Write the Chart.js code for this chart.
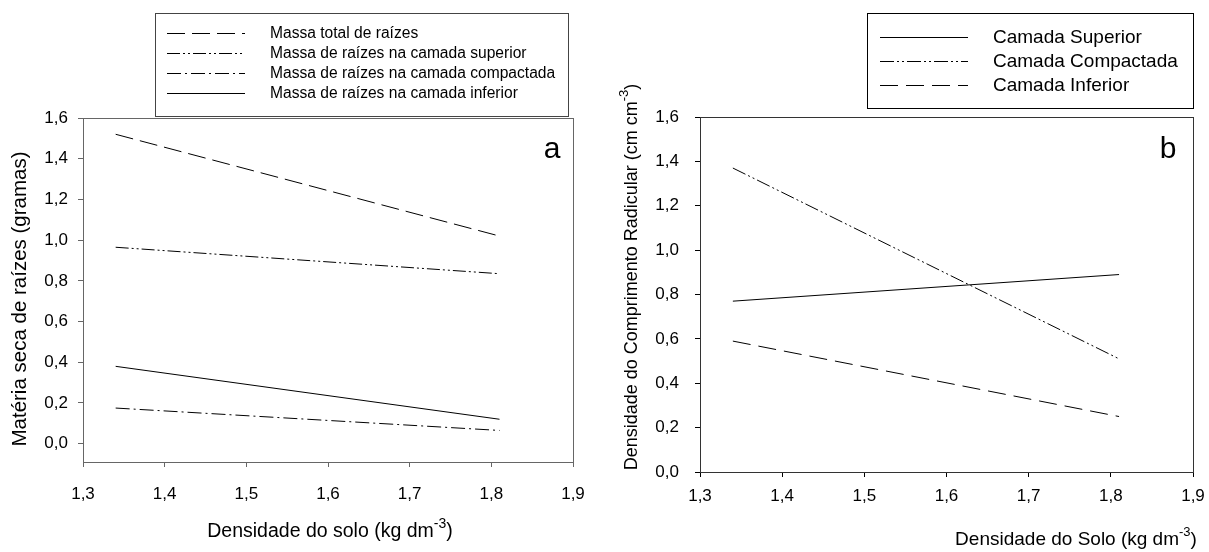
<!DOCTYPE html>
<html>
<head>
<meta charset="utf-8">
<script src="https://cdn.jsdelivr.net/npm/chart.js@4"></script>
<style>
  body { margin: 0; background: #fff; }
  canvas { position: absolute; top: 0; }
  #chartA { left: 0; }
  #chartB { left: 600px; }
</style>
</head>
<body>
<canvas id="chartA" width="600" height="552"></canvas>
<canvas id="chartB" width="609" height="552"></canvas>
<script>
// densidade do solo (kg dm-3) at the ends of each fitted line
const densidade = [1.34, 1.81];

// painel a - materia seca de raizes (gramas)
const massaTotal = [1.52, 1.02];
const massaSuperior = [0.965, 0.835];
const massaCompactada = [0.175, 0.065];
const massaInferior = [0.38, 0.12];

// painel b - densidade do comprimento radicular (cm cm-3)
const compSuperior = [0.77, 0.89];
const compCompactada = [1.37, 0.51];
const compInferior = [0.59, 0.25];

const xTicks = [1.3, 1.4, 1.5, 1.6, 1.7, 1.8, 1.9];
const yTicks = [0, 0.2, 0.4, 0.6, 0.8, 1.0, 1.2, 1.4, 1.6];

const FONT = "'Liberation Sans', Arial, sans-serif";
const comma = v => Number(v).toFixed(1).replace('.', ',');
const pts = ys => densidade.map((x, i) => ({ x: x, y: ys[i] }));

function line(label, ys, dash) {
  return {
    label: label,
    data: pts(ys),
    showLine: true,
    borderColor: '#000',
    borderWidth: 1,
    borderDash: dash,
    pointRadius: 0,
    fill: false
  };
}

// draws text with an optional superscript part, centred on (0,0)
function supText(ctx, parts, size) {
  const big = size + 'px ' + FONT, small = Math.round(size * 0.7) + 'px ' + FONT;
  let w = 0;
  parts.forEach(p => { ctx.font = p.sup ? small : big; w += ctx.measureText(p.t).width; });
  let x = -w / 2;
  ctx.textBaseline = 'middle';
  ctx.textAlign = 'left';
  parts.forEach(p => {
    ctx.font = p.sup ? small : big;
    ctx.fillText(p.t, x, p.sup ? -size * 0.4 : 0);
    x += ctx.measureText(p.t).width;
  });
}

const extras = {
  id: 'extras',
  afterDraw(chart, args, o) {
    const ctx = chart.ctx, a = chart.chartArea;
    ctx.save();
    ctx.strokeStyle = o.frameColor;
    ctx.lineWidth = 1;
    ctx.strokeRect(Math.round(a.left) + 0.5, Math.round(a.top) + 0.5,
      Math.round(a.right - a.left), Math.round(a.bottom - a.top));

    ctx.fillStyle = '#000';
    // panel letter
    ctx.font = o.letterSize + 'px ' + FONT;
    ctx.textAlign = 'center';
    ctx.textBaseline = 'middle';
    ctx.fillText(o.letter, o.letterX, o.letterY);

    // axis titles
    ctx.save();
    ctx.translate(o.xTitle.x, o.xTitle.y);
    supText(ctx, o.xTitle.parts, o.xTitle.size);
    ctx.restore();
    ctx.save();
    ctx.translate(o.yTitle.x, o.yTitle.y);
    ctx.rotate(-Math.PI / 2);
    supText(ctx, o.yTitle.parts, o.yTitle.size);
    ctx.restore();

    // legend
    const L = o.legend;
    ctx.strokeStyle = L.border;
    ctx.strokeRect(L.x + 0.5, L.y + 0.5, L.w, L.h);
    ctx.font = L.size + 'px ' + FONT;
    ctx.textAlign = 'left';
    ctx.textBaseline = 'middle';
    chart.data.datasets.forEach((ds, i) => {
      const y = Math.round(L.rows[i]) + 0.5;
      ctx.strokeStyle = '#000';
      ctx.setLineDash(ds.borderDash || []);
      ctx.beginPath();
      ctx.moveTo(L.x1, y);
      ctx.lineTo(L.x2, y);
      ctx.stroke();
      ctx.setLineDash([]);
      ctx.fillText(ds.label, L.tx, y);
    });
    ctx.restore();
  }
};

function options(cfg) {
  return {
    responsive: false,
    animation: false,
    layout: { padding: { top: cfg.top, right: cfg.right, left: 0, bottom: 0 } },
    plugins: { legend: { display: false }, tooltip: { enabled: false }, extras: cfg.extras },
    scales: {
      x: {
        type: 'linear', min: 1.3, max: 1.9,
        afterBuildTicks: s => { s.ticks = xTicks.map(v => ({ value: v })); },
        afterFit: s => { s.height = cfg.xHeight; s.paddingLeft = 0; s.paddingRight = 0; },
        border: { color: cfg.axisColor, width: 1 },
        grid: { drawOnChartArea: false, drawTicks: true, tickLength: 5, tickColor: cfg.axisColor },
        ticks: { color: '#000', font: { family: FONT, size: cfg.tickSize }, padding: cfg.xPad, callback: comma, maxRotation: 0 }
      },
      y: {
        type: 'linear', min: cfg.yMin, max: 1.6,
        afterBuildTicks: s => { s.ticks = yTicks.map(v => ({ value: v })); },
        afterFit: s => { s.width = cfg.yWidth; s.paddingTop = 0; s.paddingBottom = 0; },
        border: { color: cfg.axisColor, width: 1 },
        grid: { drawOnChartArea: false, drawTicks: true, tickLength: 5, tickColor: cfg.axisColor },
        ticks: { color: '#000', font: { family: FONT, size: cfg.tickSize }, padding: cfg.yPad, callback: comma }
      }
    }
  };
}

new Chart(document.getElementById('chartA'), {
  type: 'scatter',
  data: {
    datasets: [
      line('Massa total de raízes', massaTotal, [18, 7]),
      line('Massa de raízes na camada superior', massaSuperior, [13, 3, 2, 3, 2, 3]),
      line('Massa de raízes na camada compactada', massaCompactada, [14, 4, 2, 4]),
      line('Massa de raízes na camada inferior', massaInferior, [])
    ]
  },
  options: options({
    top: 118, right: 27, xHeight: 90, yWidth: 83, yMin: -0.09,
    axisColor: '#666', tickSize: 17, xPad: 17, yPad: 10,
    extras: {
      frameColor: '#666', letter: 'a', letterX: 552, letterY: 150, letterSize: 30,
      xTitle: { x: 330, y: 532, size: 19.5, parts: [{ t: 'Densidade do solo (kg dm' }, { t: '-3', sup: true }, { t: ')' }] },
      yTitle: { x: 20, y: 299, size: 20.5, parts: [{ t: 'Matéria seca de raízes (gramas)' }] },
      legend: { x: 155, y: 13, w: 413, h: 103, border: '#444', size: 15.6, x1: 167, x2: 245, tx: 270, rows: [33, 53, 73, 93] }
    }
  }),
  plugins: [extras]
});

new Chart(document.getElementById('chartB'), {
  type: 'scatter',
  data: {
    datasets: [
      line('Camada Superior', compSuperior, []),
      line('Camada Compactada', compCompactada, [14, 3, 2, 3, 2, 3]),
      line('Camada Inferior', compInferior, [18, 8])
    ]
  },
  options: options({
    top: 117, right: 16, xHeight: 80, yWidth: 100, yMin: 0,
    axisColor: '#000', tickSize: 17, xPad: 9, yPad: 16,
    extras: {
      frameColor: '#333', letter: 'b', letterX: 568, letterY: 150, letterSize: 30,
      xTitle: { x: 476, y: 540, size: 19, parts: [{ t: 'Densidade do Solo (kg dm' }, { t: '-3', sup: true }, { t: ')' }] },
      yTitle: { x: 32, y: 277, size: 18, parts: [{ t: 'Densidade do Comprimento Radicular (cm cm' }, { t: '-3', sup: true }, { t: ')' }] },
      legend: { x: 267, y: 13, w: 326, h: 95, border: '#000', size: 19, x1: 280, x2: 368, tx: 393, rows: [37, 61, 85] }
    }
  }),
  plugins: [extras]
});
</script>
</body>
</html>
